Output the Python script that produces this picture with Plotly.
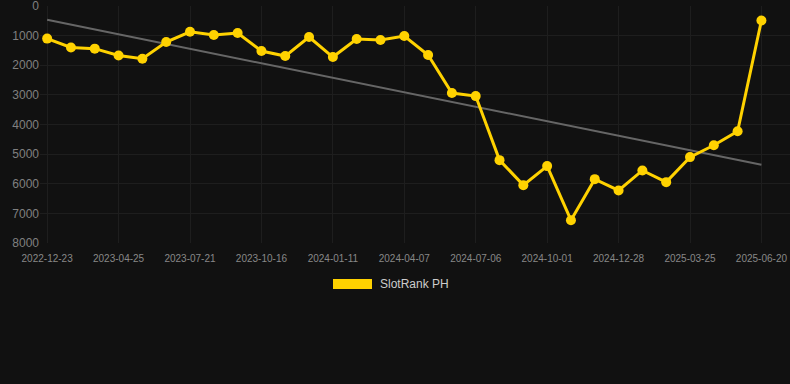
import numpy as np
import plotly.graph_objects as go

dates = [
    "2022-12-23", "2023-01-30", "2023-03-10", "2023-04-25", "2023-05-24", "2023-06-22",
    "2023-07-21", "2023-08-19", "2023-09-17", "2023-10-16", "2023-11-14", "2023-12-13",
    "2024-01-11", "2024-02-09", "2024-03-09", "2024-04-07", "2024-05-07", "2024-06-06",
    "2024-07-06", "2024-08-04", "2024-09-02", "2024-10-01", "2024-10-30", "2024-11-28",
    "2024-12-28", "2025-01-26", "2025-02-24", "2025-03-25", "2025-04-22", "2025-05-21",
    "2025-06-20",
]
ranks = [
    1100, 1400, 1440, 1670, 1780, 1216, 870, 980, 912, 1520, 1690, 1047, 1723,
    1115, 1149, 1014, 1655, 2939, 3041, 5203, 6047, 5405, 7230, 5845, 6226,
    5550, 5946, 5101, 4700, 4230, 490,
]
tick_labels = dates[::3]
y_ticks = [0, 1000, 2000, 3000, 4000, 5000, 6000, 7000, 8000]
series_name = "SlotRank PH"

idx = np.arange(len(ranks))
slope, intercept = np.polyfit(idx, ranks, 1)
trend = [intercept + slope * i for i in idx]

fig = go.Figure()
fig.add_trace(go.Scatter(
    x=dates, y=trend, mode="lines",
    line=dict(color="#666666", width=2), showlegend=False, hoverinfo="skip",
))
fig.add_trace(go.Scatter(
    x=dates, y=ranks, mode="lines+markers", name=series_name,
    line=dict(color="#FFD200", width=3),
    marker=dict(color="#FFD200", size=10),
    showlegend=False,
))

fig.add_shape(type="rect", xref="paper", yref="paper",
              x0=(333 - 40) / 750, x1=(372 - 40) / 750,
              y0=-(289 - 243) / 237, y1=-(279 - 243) / 237,
              fillcolor="#FFD200", line=dict(width=0))
fig.add_annotation(text=series_name, xref="paper", yref="paper",
                   x=(378 - 40) / 750, y=-(284 - 243) / 237,
                   xanchor="left", yanchor="middle", showarrow=False,
                   font=dict(size=12, color="#CCCCCC", family="Arial, Liberation Sans, sans-serif"))

fig.update_layout(
    width=790, height=384,
    margin=dict(l=40, r=0, t=6, b=141),
    paper_bgcolor="#111111", plot_bgcolor="#111111",
    font=dict(family="Arial, Liberation Sans, sans-serif", color="#888888"),
    showlegend=False,
)
fig.update_xaxes(
    type="category", range=[-0.3, 31.2],
    tickvals=tick_labels, ticktext=tick_labels,
    tickfont=dict(size=10, color="#888888"),
    ticklabelstandoff=8,
    showgrid=True, gridcolor="#1e1e1e", gridwidth=1,
    zeroline=False, showline=False, ticks="",
)
fig.update_yaxes(
    range=[8000, 0], tickvals=y_ticks,
    tickfont=dict(size=12, color="#808080"),
    ticklabeloverflow="allow",
    showgrid=True, gridcolor="#1e1e1e", gridwidth=1,
    zeroline=False, showline=False, ticks="",
)

fig.write_html(
    "out.html",
    config={"displayModeBar": False},
    post_script="document.body.style.margin='0';document.body.style.overflow='hidden';",
)
